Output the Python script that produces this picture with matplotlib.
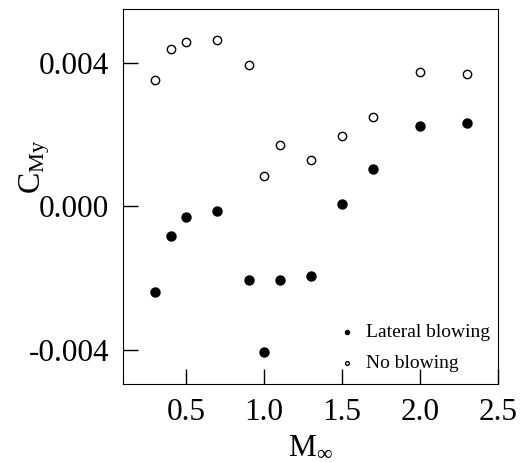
import numpy as np
import matplotlib
matplotlib.use("Agg")
import matplotlib.pyplot as plt

plt.rcParams['font.family'] = ['Liberation Serif', 'DejaVu Serif']
plt.rcParams['mathtext.fontset'] = 'custom'
plt.rcParams['mathtext.rm'] = 'Liberation Serif'
plt.rcParams['mathtext.it'] = 'Liberation Serif:italic'

# Mach numbers and yawing moment coefficients
mach = [0.3, 0.4, 0.5, 0.7, 0.9, 1.0, 1.1, 1.3, 1.5, 1.7, 2.0, 2.3]
cmy_lateral = [-0.00240, -0.00082, -0.00030, -0.00014, -0.00207, -0.00408,
               -0.00207, -0.00196, 0.00007, 0.00105, 0.00224, 0.00231]
cmy_none = [0.00352, 0.00438, 0.00459, 0.00463, 0.00394, 0.00085,
            0.00171, 0.00129, 0.00196, 0.00248, 0.00374, 0.00368]

xticks = [0.5, 1.0, 1.5, 2.0, 2.5]
yticks = [-0.004, 0.000, 0.004]

fig = plt.figure(figsize=(5.25, 4.62), dpi=100)
ax = fig.add_axes([123/525, 1 - 384/462, 375/525, 375/462])

ax.scatter(mach, cmy_lateral, s=42, c='black', edgecolors='black', linewidths=1,
           label='Lateral blowing', zorder=3)
ax.scatter(mach, cmy_none, s=36, facecolors='white', edgecolors='black', linewidths=1,
           label='No blowing', zorder=3)

ax.set_xlim(0.095, 2.5)
ax.set_ylim(-0.00496, 0.0055)
ax.set_xticks(xticks)
ax.set_xticklabels(['0.5', '1.0', '1.5', '2.0', '2.5'])
ax.set_yticks(yticks)
ax.set_yticklabels(['-0.004', '0.000', '0.004'])
ax.tick_params(direction='in', length=11, width=1, labelsize=22.5)
ax.tick_params(axis='y', pad=10)
ax.tick_params(axis='x', pad=10)

ax.set_xlabel(r'M$_\infty$', fontsize=22.5)
ax.xaxis.set_label_coords(0.5, -0.13)
ax.set_ylabel(r'C$_{\mathrm{My}}$', fontsize=23)
ax.yaxis.set_label_coords(-0.19, 0.58)

leg = ax.legend(loc='lower right', bbox_to_anchor=(1.0, 0.012), frameon=False,
                fontsize=14, markerscale=0.45, handlelength=1.0, handletextpad=0.5,
                borderaxespad=0.0, labelspacing=0.65)

fig.savefig('out.png', dpi=100)
